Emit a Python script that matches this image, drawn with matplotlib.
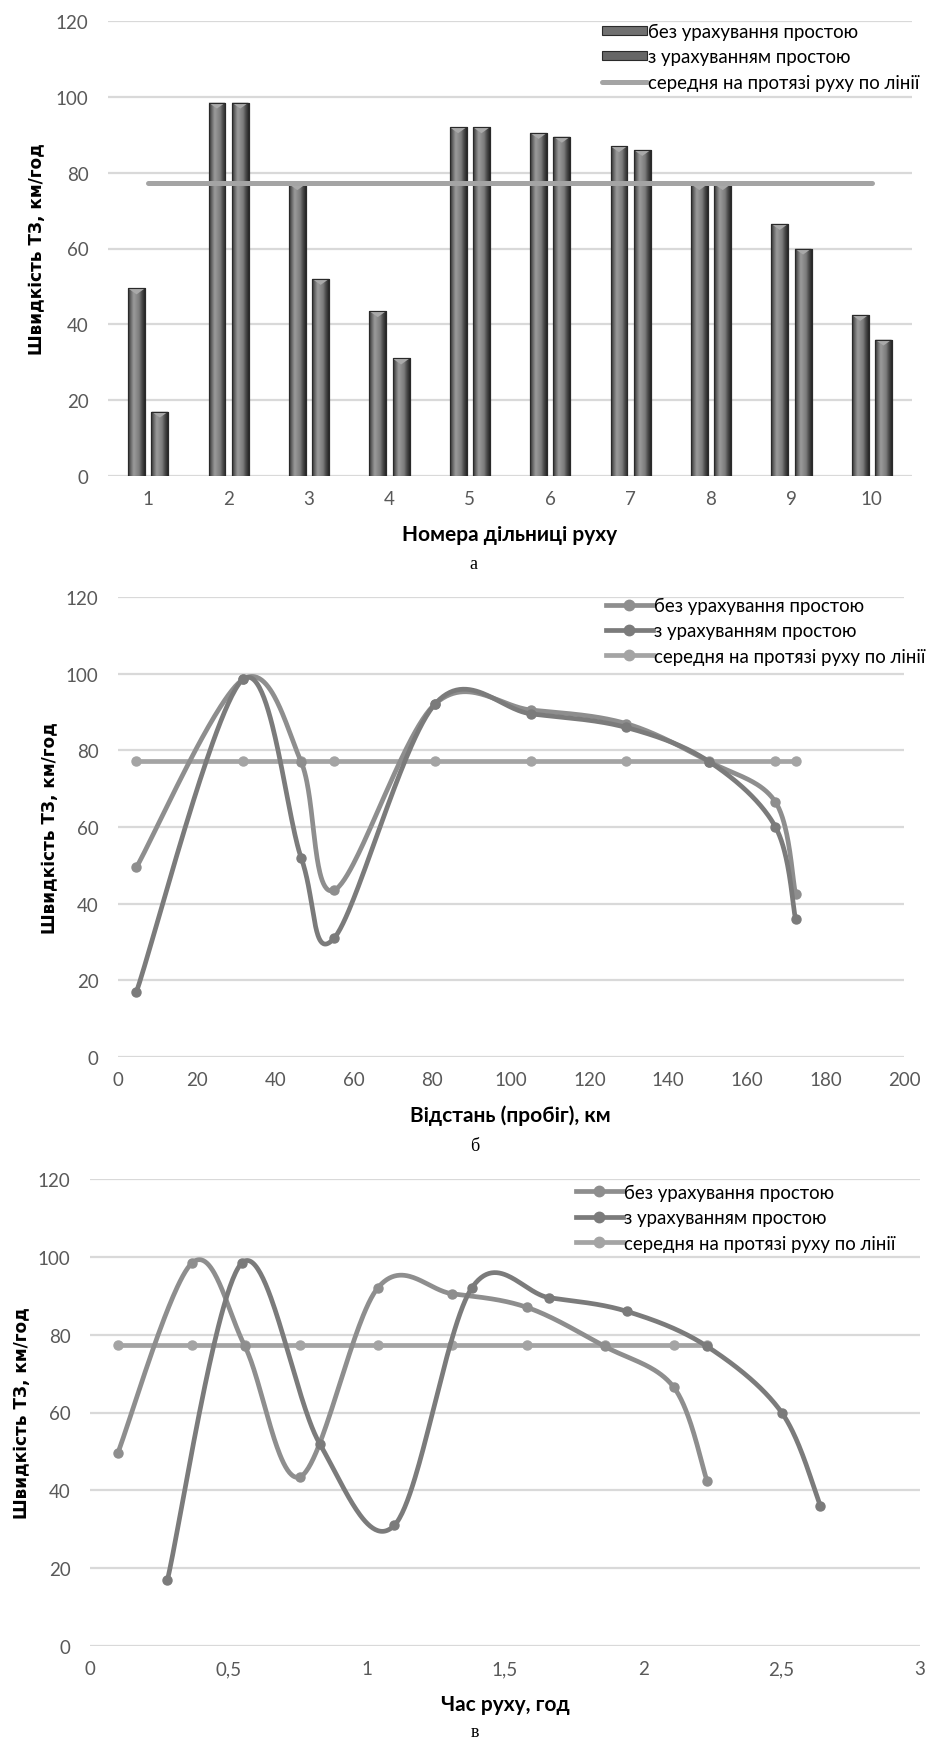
import numpy as np
import matplotlib
matplotlib.use("Agg")
import matplotlib.pyplot as plt
from matplotlib.colors import LinearSegmentedColormap
from matplotlib.patches import Polygon, Rectangle
from matplotlib.lines import Line2D

# ---- data ----
sections = [1, 2, 3, 4, 5, 6, 7, 8, 9, 10]
v_no_idle = [49.5, 98.5, 77.0, 43.5, 92.0, 90.5, 87.0, 77.0, 66.5, 42.5]
v_idle = [17.0, 98.5, 52.0, 31.0, 92.0, 89.5, 86.0, 77.0, 60.0, 36.0]
v_mean = [77.3] * 10

distance = [4.7, 31.8, 46.6, 55.0, 80.6, 105.2, 129.2, 150.5, 167.3, 172.4]

t_no_idle = [0.10, 0.37, 0.56, 0.76, 1.04, 1.31, 1.58, 1.86, 2.11, 2.23]
t_idle = [0.28, 0.55, 0.83, 1.10, 1.38, 1.66, 1.94, 2.23, 2.50, 2.64]

t_ticks = [0, 0.5, 1, 1.5, 2, 2.5, 3]
t_ticklabels = ["0", "0,5", "1", "1,5", "2", "2,5", "3"]

lbl_no_idle = "без урахування простою"
lbl_idle = "з урахуванням простою"
lbl_mean = "середня на протязі руху по лінії"
ylabel = "Швидкість ТЗ, км/год"

W, H = 941, 1740
plt.rcParams["font.family"] = ["Lato", "DejaVu Sans"]

tick_color = "#595959"
grid_color = "#d9d9d9"
c_no_idle = "#8e8e8e"
c_idle = "#7b7b7b"
c_mean = "#a4a4a4"
tick_font = 13.5
legend_font = 13.4
xlabel_font = 15
ylabel_font = 12.2

fig = plt.figure(figsize=(W / 100, H / 100), dpi=100)


def px_axes(x0, y0, x1, y1):
    return fig.add_axes([x0 / W, 1 - y1 / H, (x1 - x0) / W, (y1 - y0) / H])


def style(ax):
    for s in ax.spines.values():
        s.set_visible(False)
    ax.set_ylim(0, 120)
    ax.set_yticks(range(0, 121, 20))
    ax.yaxis.grid(True, color=grid_color, lw=1.6)
    ax.set_axisbelow(True)
    ax.tick_params(length=0, labelsize=tick_font, labelcolor=tick_color)
    ax.tick_params(axis="y", pad=14)
    ax.tick_params(axis="x", pad=10)


def smooth(ax, x, y, n=60):
    # Catmull-Rom style bezier smoothing done in screen space
    bb = ax.get_position()
    wpx, hpx = bb.width * W, bb.height * H
    x0, x1 = ax.get_xlim()
    y0, y1 = ax.get_ylim()
    P = np.column_stack([(np.asarray(x) - x0) / (x1 - x0) * wpx,
                         (np.asarray(y) - y0) / (y1 - y0) * hpx])
    E = np.vstack([P[0], P, P[-1]])
    t = np.linspace(0, 1, n)[:, None]
    pts = []
    for i in range(len(P) - 1):
        p0, p1, p2, p3 = E[i], E[i + 1], E[i + 2], E[i + 3]
        c1 = p1 + (p2 - p0) / 6
        c2 = p2 - (p3 - p1) / 6
        seg = (1 - t) ** 3 * p1 + 3 * (1 - t) ** 2 * t * c1 + 3 * (1 - t) * t ** 2 * c2 + t ** 3 * p2
        pts.append(seg if i == 0 else seg[1:])
    pts = np.vstack(pts)
    return (pts[:, 0] / wpx * (x1 - x0) + x0, pts[:, 1] / hpx * (y1 - y0) + y0)


def curve(ax, x, y, color, label, z):
    sx, sy = smooth(ax, x, y)
    ax.plot(sx, sy, color=color, lw=3.4, solid_capstyle="round", zorder=z)
    ax.plot(x, y, "o", color=color, ms=6.5, zorder=z)
    return Line2D([], [], color=color, lw=3.4, marker="o", ms=7.5, label=label)


def line_legend(ax, handles, x_anchor, y_anchor):
    ax.legend(handles=handles, loc="upper left", bbox_to_anchor=(x_anchor, y_anchor),
              frameon=False, fontsize=legend_font, borderpad=0, borderaxespad=0,
              handlelength=2.5, handletextpad=0.1, labelspacing=0.45)


# ---- а: bar chart ----
ax1 = px_axes(108, 22, 912, 477)
style(ax1)
ax1.set_xlim(0.5, 10.5)
ax1.set_xticks(sections)

bevel = LinearSegmentedColormap.from_list(
    "bevel", ["#2e2e2e", "#6a6a6a", "#9a9a9a", "#8c8c8c", "#7a7a7a", "#4a4a4a", "#262626"])
grad = np.linspace(0, 1, 64)[None, :]

x = np.array(sections, dtype=float)
bw = 0.21
off = 0.145
for vals, shift in [(v_no_idle, -off), (v_idle, off)]:
    bars = ax1.bar(x + shift, vals, width=bw, color="#6e6e6e", edgecolor="#2a2a2a",
                   lw=0.8, zorder=2)
    for b in bars:
        bx, bh = b.get_x(), b.get_height()
        im = ax1.imshow(grad, cmap=bevel, extent=(bx, bx + bw, 0, bh),
                        aspect="auto", zorder=2.1, interpolation="bilinear")
        im.set_clip_path(b)
        ax1.add_patch(Polygon([(bx, bh), (bx + bw, bh), (bx + bw / 2, bh - 1.6)],
                              closed=True, fc="#a9a9a9", ec="none", zorder=2.2))
        ax1.add_patch(Rectangle((bx, 0), bw, bh, fc="none", ec="#2a2a2a", lw=0.8,
                                zorder=2.3))
ax1.set_xlim(0.5, 10.5)
ax1.set_ylim(0, 120)
ax1.plot(sections, v_mean, color=c_mean, lw=3.6, solid_capstyle="round", zorder=3)

h1 = [Rectangle((0, 0), 1, 1, fc="#707070", ec="#2a2a2a", lw=0.8, label=lbl_no_idle),
      Rectangle((0, 0), 1, 1, fc="#666666", ec="#2a2a2a", lw=0.8, label=lbl_idle),
      Line2D([], [], color=c_mean, lw=3.6, solid_capstyle="round", label=lbl_mean)]
ax1.legend(handles=h1, loc="upper left", bbox_to_anchor=((600 - 108) / 804, 1.0),
           frameon=False, fontsize=legend_font, borderpad=0, borderaxespad=0.1,
           handlelength=2.4, handleheight=0.4, handletextpad=0.1, labelspacing=0.45)

fig.text(510 / W, 1 - 535 / H, "Номера дільниці руху", ha="center", va="center",
         fontsize=xlabel_font, fontweight="bold", color="black")
fig.text(37 / W, 1 - 249 / H, ylabel, rotation=90, ha="center", va="center",
         fontsize=ylabel_font, fontweight="bold", family="DejaVu Sans")
fig.text(473 / W, 1 - 565 / H, "а", ha="center", va="center", fontsize=13,
         family="Liberation Serif")

# ---- б: speed vs distance ----
ax2 = px_axes(118, 598, 904, 1058)
style(ax2)
ax2.set_xlim(0, 200)
ax2.set_xticks(range(0, 201, 20))
h2 = [curve(ax2, distance, v_no_idle, c_no_idle, lbl_no_idle, 3),
      curve(ax2, distance, v_idle, c_idle, lbl_idle, 3),
      curve(ax2, distance, v_mean, c_mean, lbl_mean, 2)]
line_legend(ax2, h2, (606 - 118) / 786, 1.0)

fig.text(510 / W, 1 - 1116 / H, "Відстань (пробіг), км", ha="center", va="center",
         fontsize=xlabel_font, fontweight="bold", color="black")
fig.text(50 / W, 1 - 828 / H, ylabel, rotation=90, ha="center", va="center",
         fontsize=ylabel_font, fontweight="bold", family="DejaVu Sans")
fig.text(475 / W, 1 - 1147 / H, "б", ha="center", va="center", fontsize=13,
         family="Liberation Serif")

# ---- в: speed vs travel time ----
ax3 = px_axes(90, 1180, 920, 1647)
style(ax3)
ax3.set_xlim(0, 3)
ax3.set_xticks(t_ticks)
ax3.set_xticklabels(t_ticklabels)
h3 = [curve(ax3, t_no_idle, v_no_idle, c_no_idle, lbl_no_idle, 3),
      curve(ax3, t_idle, v_idle, c_idle, lbl_idle, 3),
      curve(ax3, t_no_idle, v_mean, c_mean, lbl_mean, 2)]
line_legend(ax3, h3, (576 - 90) / 830, 0.99)

fig.text(505 / W, 1 - 1705 / H, "Час руху, год", ha="center", va="center",
         fontsize=xlabel_font, fontweight="bold", color="black")
fig.text(22 / W, 1 - 1413 / H, ylabel, rotation=90, ha="center", va="center",
         fontsize=ylabel_font, fontweight="bold", family="DejaVu Sans")
fig.text(475 / W, 1 - 1733 / H, "в", ha="center", va="center", fontsize=13,
         family="Liberation Serif")

fig.savefig("out.png", dpi=100)
